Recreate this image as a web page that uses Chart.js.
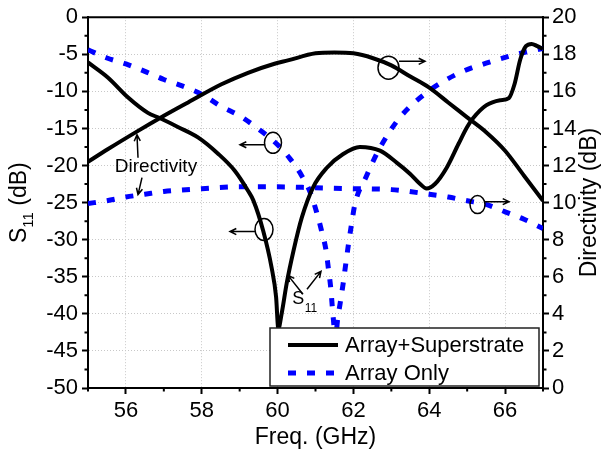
<!DOCTYPE html>
<html>
<head>
<meta charset="utf-8">
<script src="https://cdn.jsdelivr.net/npm/chart.js@4.4.1/dist/chart.umd.min.js"></script>
<style>
  html, body { margin: 0; padding: 0; background: #fff; }
  #wrap { width: 602px; height: 455px; }
</style>
</head>
<body>
<div id="wrap"><canvas id="c"></canvas></div>
<script>
// tick labels
const freqTicks = [56, 58, 60, 62, 64, 66];
const s11Ticks = [0, -5, -10, -15, -20, -25, -30, -35, -40, -45, -50];
const dirTicks = [0, 2, 4, 6, 8, 10, 12, 14, 16, 18, 20];

// Array+Superstrate, S11 (dB)
const superS11Freq = [55, 55.53, 56.05, 56.58, 56.89, 57.37, 57.9, 58.43, 58.87, 59.22, 59.36, 59.62, 59.84, 59.96, 60.02, 60.11, 60.24, 60.42, 60.64, 60.94, 61.3, 61.73, 62.17, 62.7, 63.14, 63.49, 63.76, 63.93, 64.15, 64.46, 64.77, 65, 65.16, 65.5, 65.87, 66.1, 66.25, 66.4, 66.55, 66.7, 66.85, 67];
const superS11 = [-6.1, -8.16, -10.8, -12.9, -13.6, -14.8, -16.2, -18.4, -20.7, -23.4, -24.7, -28.8, -33.7, -37.7, -42, -39.9, -35.9, -31.5, -27.0, -22.9, -20.3, -18.45, -17.5, -18.0, -19.6, -21.1, -22.5, -23.1, -22.5, -20.3, -17.1, -14.8, -13.6, -11.9, -11.2, -10.9, -9.0, -5.7, -3.9, -3.6, -3.9, -4.3];

// Array+Superstrate, directivity (dB)
const superDirFreq = [55, 55.53, 56.32, 56.89, 57.64, 58.52, 59.22, 59.92, 60.27, 61, 61.5, 62, 62.5, 63, 63.5, 64, 64.5, 65, 65.5, 66, 66.5, 67];
const superDir = [12.2, 12.89, 13.87, 14.55, 15.4, 16.38, 17.0, 17.49, 17.67, 18.05, 18.1, 18.05, 17.8, 17.4, 16.8, 16.2, 15.4, 14.6, 13.8, 12.8, 11.45, 10.1];

// Array Only, S11 (dB)
const onlyS11Freq = [55, 55.5, 56, 56.5, 57, 57.5, 58, 58.5, 59, 59.5, 59.98, 60.33, 60.64, 60.86, 61.03, 61.16, 61.28, 61.34, 61.4, 61.45, 61.5, 61.53, 61.56, 61.65, 61.73, 61.8, 61.87, 61.95, 62.04, 62.2, 62.3, 62.44, 62.7, 63.23, 64, 64.8, 65.5, 66.3, 67];
const onlyS11 = [-4.4, -5.5, -6.3, -7.3, -8.4, -9.3, -10.4, -12.0, -13.3, -15.1, -17.1, -19.1, -21.4, -23.6, -26.3, -28.8, -31.5, -33.9, -36.4, -39.5, -42.5, -45, -42, -38.6, -35.9, -33.2, -30.6, -27.9, -25.2, -22.8, -21.9, -20.3, -17.6, -13.5, -9.9, -7.5, -6.2, -5.0, -4.2];

// Array Only, directivity (dB)
const onlyDirFreq = [55, 55.5, 56, 56.5, 57, 58, 59, 60, 61, 62, 63, 64, 64.5, 65, 65.5, 66, 66.5, 67];
const onlyDir = [9.95, 10.1, 10.3, 10.45, 10.6, 10.75, 10.85, 10.85, 10.8, 10.75, 10.7, 10.45, 10.3, 10.1, 9.9, 9.5, 9.1, 8.6];

const seriesNames = ['Array+Superstrate', 'Array Only'];

// hand-drawn notes, in (GHz, S11 dB) coordinates
const noteArrows = [
  [56.319, -18.95, 56.292, -15.86],
  [56.424, -21.64, 56.319, -23.92],
  [59.668, -17.2, 59.009, -17.2],
  [59.404, -28.9, 58.745, -28.9],
  [63.202, -5.95, 63.888, -5.95],
  [65.47, -24.87, 66.104, -24.87],
  [60.67, -37.37, 60.275, -34.81],
  [60.776, -36.69, 61.145, -34.27],
];
const noteCircles = [
  [59.879, -16.935, 8.5, 10.5],
  [59.642, -28.63, 9, 11],
  [62.925, -6.81, 10.5, 11.5],
  [65.273, -25.27, 7.5, 9],
];

const FONT = '"Liberation Sans", Arial, sans-serif';
const BLUE = '#0000ff';
const zip = (xs, ys) => xs.map((x, i) => ({ x, y: ys[i] }));

function arrow(ctx, x0, y0, x1, y1) {
  const ang = Math.atan2(y1 - y0, x1 - x0), h = 7;
  ctx.beginPath();
  ctx.moveTo(x0, y0); ctx.lineTo(x1, y1);
  ctx.moveTo(x1 - h * Math.cos(ang - 0.45), y1 - h * Math.sin(ang - 0.45));
  ctx.lineTo(x1, y1);
  ctx.lineTo(x1 - h * Math.cos(ang + 0.45), y1 - h * Math.sin(ang + 0.45));
  ctx.stroke();
}

const decor = {
  id: 'decor',
  afterDatasetsDraw(chart) {
    const { ctx, chartArea: a, scales: { x, y } } = chart;
    const px = v => x.getPixelForValue(v), py = v => y.getPixelForValue(v);
    ctx.save();

    // notes
    ctx.strokeStyle = '#000'; ctx.fillStyle = '#000'; ctx.lineWidth = 1.5;
    noteArrows.forEach(([x0, y0, x1, y1]) => arrow(ctx, px(x0), py(y0), px(x1), py(y1)));
    noteCircles.forEach(([cx, cy, rx, ry]) => {
      ctx.beginPath();
      ctx.ellipse(px(cx), py(cy), rx, ry, 0, 0, Math.PI * 2);
      ctx.stroke();
    });
    ctx.textAlign = 'center'; ctx.textBaseline = 'middle';
    ctx.font = '19px ' + FONT;
    ctx.fillText('Directivity', px(56.793), py(-20.16));
    ctx.font = '18px ' + FONT;
    ctx.fillText('S', px(60.546), py(-38.01));
    ctx.font = '12px ' + FONT;
    ctx.fillText('11', px(60.881), py(-39.25));

    // legend
    const lx = a.right - 273, ly = a.bottom - 60, lw = 269, lh = 58;
    ctx.fillStyle = '#fff';
    ctx.fillRect(lx, ly, lw, lh);
    ctx.strokeStyle = '#222'; ctx.lineWidth = 1.5;
    ctx.strokeRect(lx, ly, lw, lh);
    ctx.lineWidth = 4; ctx.strokeStyle = '#000';
    ctx.beginPath(); ctx.moveTo(lx + 18, ly + 17); ctx.lineTo(lx + 68, ly + 17); ctx.stroke();
    ctx.lineWidth = 5; ctx.strokeStyle = BLUE; ctx.setLineDash([8, 11]);
    ctx.beginPath(); ctx.moveTo(lx + 18, ly + 45); ctx.lineTo(lx + 68, ly + 45); ctx.stroke();
    ctx.setLineDash([]);
    ctx.fillStyle = '#000'; ctx.font = '22px ' + FONT;
    ctx.textAlign = 'left';
    ctx.fillText(seriesNames[0], lx + 75, ly + 18);
    ctx.fillText(seriesNames[1], lx + 75, ly + 46);
    ctx.restore();
  },
  afterDraw(chart) {
    const { ctx, chartArea: a, scales: { x, y, y1 } } = chart;
    ctx.save();
    ctx.strokeStyle = '#000'; ctx.lineWidth = 2;
    // top frame line
    ctx.beginPath(); ctx.moveTo(a.left - 1, a.top); ctx.lineTo(a.right + 1, a.top); ctx.stroke();
    // minor ticks
    ctx.beginPath();
    for (let v = 55; v <= 67; v += 2) {
      const p = x.getPixelForValue(v);
      ctx.moveTo(p, a.bottom); ctx.lineTo(p, a.bottom + 3.5);
    }
    for (let v = -2.5; v > -50; v -= 5) {
      const p = y.getPixelForValue(v);
      ctx.moveTo(a.left, p); ctx.lineTo(a.left - 3.5, p);
    }
    for (let v = 1; v < 20; v += 2) {
      const p = y1.getPixelForValue(v);
      ctx.moveTo(a.right, p); ctx.lineTo(a.right + 3.5, p);
    }
    ctx.stroke();

    // axis titles
    ctx.fillStyle = '#000';
    ctx.textBaseline = 'middle';
    ctx.font = '23px ' + FONT;
    ctx.textAlign = 'center';
    ctx.fillText('Freq. (GHz)', (a.left + a.right) / 2, 438);

    ctx.save();
    ctx.translate(590, (a.top + a.bottom) / 2);
    ctx.rotate(-Math.PI / 2);
    ctx.fillText('Directivity (dB)', 0, 0);
    ctx.restore();

    ctx.save();
    ctx.translate(20, (a.top + a.bottom) / 2);
    ctx.rotate(-Math.PI / 2);
    ctx.textAlign = 'left';
    ctx.font = '23px ' + FONT;
    const wS = ctx.measureText('S').width, wT = ctx.measureText(' (dB)').width;
    ctx.font = '15px ' + FONT;
    const w11 = ctx.measureText('11').width;
    const start = -(wS + w11 + wT) / 2;
    ctx.font = '23px ' + FONT;
    ctx.fillText('S', start, 0);
    ctx.fillText(' (dB)', start + wS + w11, 0);
    ctx.font = '15px ' + FONT;
    ctx.fillText('11', start + wS, 9);
    ctx.restore();

    ctx.restore();
  }
};

const tickFont = { family: FONT, size: 22 };
const fixTicks = arr => scale => { scale.ticks = arr.map(v => ({ value: v })); };

new Chart(document.getElementById('c'), {
  type: 'line',
  data: {
    datasets: [
      { label: seriesNames[0], data: zip(superS11Freq, superS11), yAxisID: 'y', borderColor: '#000', borderWidth: 4, pointRadius: 0, cubicInterpolationMode: 'monotone' },
      { label: seriesNames[0] + ' directivity', data: zip(superDirFreq, superDir), yAxisID: 'y1', borderColor: '#000', borderWidth: 4, pointRadius: 0, cubicInterpolationMode: 'monotone' },
      { label: seriesNames[1], data: zip(onlyS11Freq, onlyS11), yAxisID: 'y', borderColor: BLUE, borderWidth: 5, borderDash: [8, 11], borderCapStyle: 'butt', pointRadius: 0, cubicInterpolationMode: 'monotone' },
      { label: seriesNames[1] + ' directivity', data: zip(onlyDirFreq, onlyDir), yAxisID: 'y1', borderColor: BLUE, borderWidth: 5, borderDash: [8, 11], borderCapStyle: 'butt', pointRadius: 0, cubicInterpolationMode: 'monotone' },
    ],
  },
  options: {
    responsive: true, maintainAspectRatio: false, animation: false,
    layout: { padding: { top: 16, left: 0, right: 0, bottom: 0 } },
    plugins: { legend: { display: false }, tooltip: { enabled: false } },
    scales: {
      x: {
        type: 'linear', min: 55, max: 67,
        afterBuildTicks: fixTicks(freqTicks),
        afterFit: s => { s.height = 67; },
        ticks: { font: tickFont, color: '#000', padding: 4, maxRotation: 0 },
        grid: { color: '#c8c8c8', lineWidth: 1, tickLength: 6, tickColor: '#000', tickWidth: 2 },
        border: { color: '#000', width: 2, dash: [1, 2] },
      },
      y: {
        type: 'linear', position: 'left', min: -50, max: 0,
        afterBuildTicks: fixTicks(s11Ticks),
        afterFit: s => { s.width = 88; },
        ticks: { font: tickFont, color: '#000', padding: 4 },
        grid: { color: '#c8c8c8', lineWidth: 1, tickLength: 6, tickColor: '#000', tickWidth: 2 },
        border: { color: '#000', width: 2, dash: [1, 2] },
      },
      y1: {
        type: 'linear', position: 'right', min: 0, max: 20,
        afterBuildTicks: fixTicks(dirTicks),
        afterFit: s => { s.width = 59; },
        ticks: { font: tickFont, color: '#000', padding: 3 },
        grid: { drawOnChartArea: false, tickLength: 6, tickColor: '#000', tickWidth: 2 },
        border: { color: '#000', width: 2 },
      },
    },
  },
  plugins: [decor],
});
</script>
</body>
</html>
